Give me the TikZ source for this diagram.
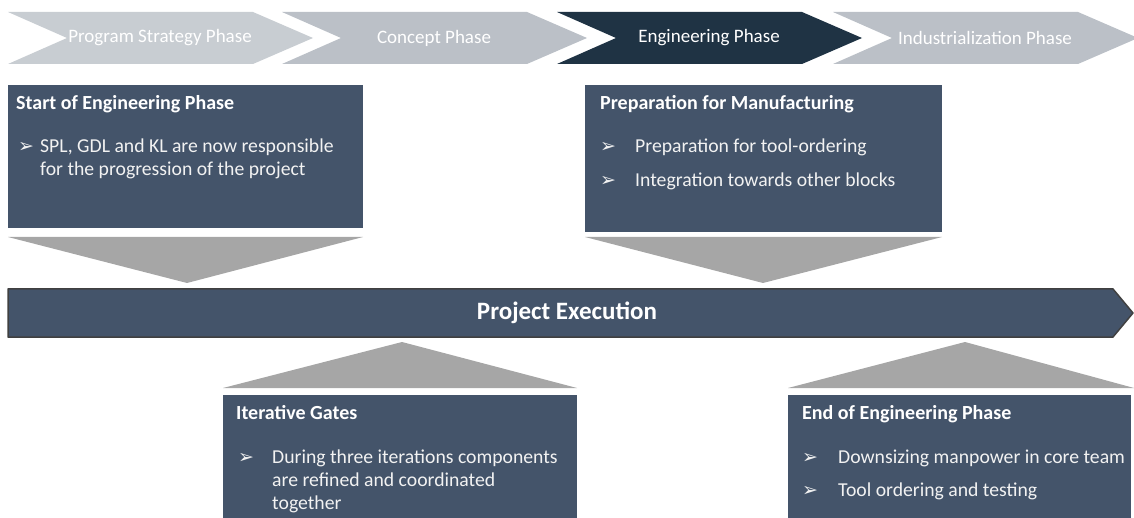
\documentclass[tikz,border=0pt]{standalone}
\usepackage{fontspec}
\setmainfont{Carlito}
\newfontfamily\symfont{DejaVu Sans}
\usetikzlibrary{positioning}
\definecolor{phlight}{HTML}{C8CDD2}
\definecolor{phgrey}{HTML}{BBC0C7}
\definecolor{phdark}{HTML}{1F3344}
\definecolor{boxblue}{HTML}{44546A}
\definecolor{trigrey}{HTML}{A6A6A6}
\tikzset{
  phasetxt/.style={text=white, font=\fontsize{19}{22}\selectfont, inner sep=0pt},
  boxtitle/.style={text=white, font=\bfseries\fontsize{20}{24}\selectfont, inner sep=0pt, anchor=base west},
  bodytxt/.style={text=white!95!black, font=\fontsize{19.7}{23}\selectfont, inner sep=0pt, anchor=base west},
  arrowbullet/.style={text=white!95!black, font=\symfont\fontsize{19}{21}\selectfont, inner sep=0pt, anchor=base west}
}
\begin{document}
\begin{tikzpicture}[x=1pt, y=-1pt, line join=round]
	\useasboundingbox (0,0) rectangle (1134,518);
	% Phasen oben
	\foreach \xa/\col/\txt [count=\i] in {8/phlight/Program Strategy Phase, 282/phgrey/Concept Phase, 557/phdark/Engineering Phase, 833/phgrey/Industrialization Phase}{
		\fill[\col] (\xa,12) -- ++(245,0) -- ++(60,26) -- ++(-60,26) -- ++(-245,0) -- ++(59,-26) -- cycle;
		\node[phasetxt] (phase\i) at (\xa+152,38) {\txt};
	}
	% Kasten oben links
	\fill[boxblue] (8,85) rectangle (363,228);
	\node[boxtitle] (start) at (16,110) {Start of Engineering Phase};
	\node[arrowbullet] (sb1) at (18,153) {➢};
	\node[bodytxt] (s1) at (40,153) {SPL, GDL and KL are now responsible};
	\node[bodytxt] (s2) at (40,176) {for the progression of the project};
	\fill[trigrey] (8,237) -- (363,237) -- (187,283) -- cycle;
	% Kasten oben rechts
	\fill[boxblue] (585,85) rectangle (942,232);
	\node[boxtitle] (prep) at (600,110) {Preparation for Manufacturing};
	\node[arrowbullet] (pb1) at (600,153) {➢};
	\node[bodytxt] (p1) at (635,153) {Preparation for tool-ordering};
	\node[arrowbullet] (pb2) at (600,187) {➢};
	\node[bodytxt] (p2) at (635,187) {Integration towards other blocks};
	\fill[trigrey] (585,237) -- (942,237) -- (763,283) -- cycle;
	% Projektablauf
	\draw[fill=boxblue, draw=black!75, line width=1.5pt] (8,289) -- (1113,289) -- (1133,313) -- (1113,337) -- (8,337) -- cycle;
	\node[text=white, font=\bfseries\fontsize{25}{30}\selectfont] (exec) at (567,313) {Project Execution};
	% Kasten unten links
	\fill[trigrey] (223,388) -- (402,342) -- (577,388) -- cycle;
	\fill[boxblue] (223,395) rectangle (577,518);
	\node[boxtitle] (gates) at (236,419) {Iterative Gates};
	\node[arrowbullet] (gb1) at (238,463) {➢};
	\node[bodytxt] (g1) at (272,463) {During three iterations components};
	\node[bodytxt] (g2) at (272,486) {are refined and coordinated};
	\node[bodytxt] (g3) at (272,509) {together};
	% Kasten unten rechts
	\fill[trigrey] (788,388) -- (965,342) -- (1134,388) -- cycle;
	\fill[boxblue] (788,395) rectangle (1131,518);
	\node[boxtitle] (endph) at (802,419) {End of Engineering Phase};
	\node[arrowbullet] (eb1) at (802,463) {➢};
	\node[bodytxt] (e1) at (838,463) {Downsizing manpower in core team};
	\node[arrowbullet] (eb2) at (802,496) {➢};
	\node[bodytxt] (e2) at (838,496) {Tool ordering and testing};
\end{tikzpicture}
\end{document}
